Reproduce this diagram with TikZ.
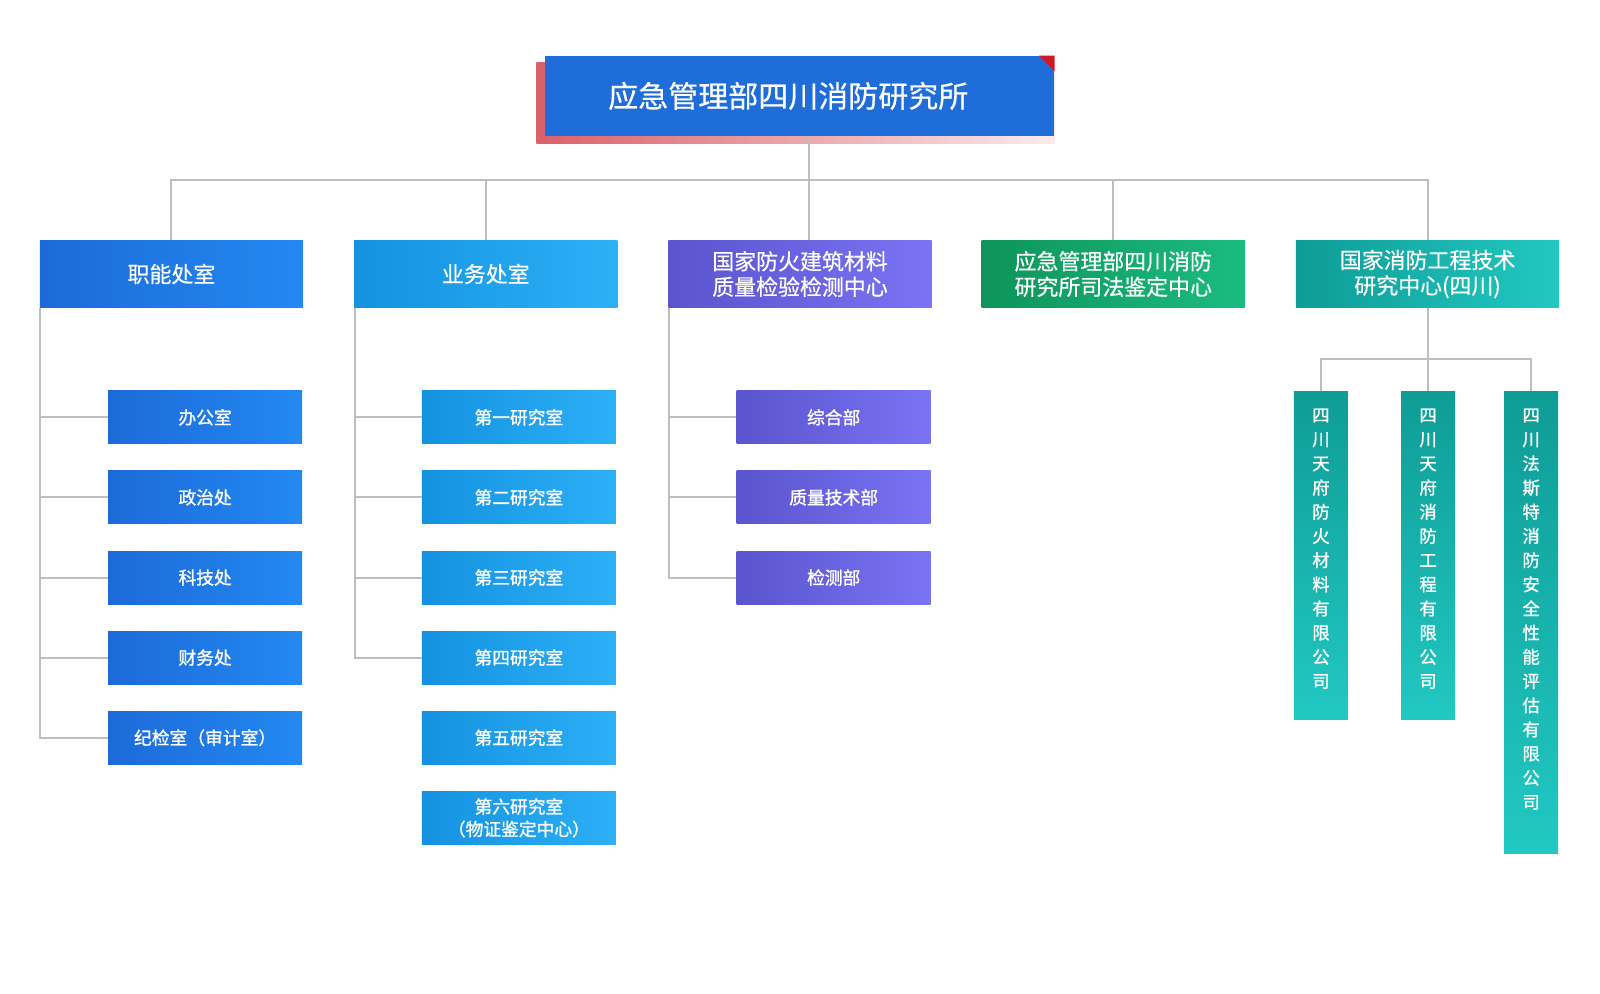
\documentclass[tikz,border=0pt]{standalone}
\usepackage{fontspec}
\newfontfamily\cjk[FakeBold=0.5]{Noto Sans CJK SC}
\newfontfamily\cjkmid[FakeBold=1.2]{Noto Sans CJK SC}
\usetikzlibrary{backgrounds}
\definecolor{headblue}{RGB}{30,109,216}
\definecolor{blueA}{RGB}{28,106,216}
\definecolor{blueB}{RGB}{35,137,242}
\definecolor{skyA}{RGB}{20,146,224}
\definecolor{skyB}{RGB}{44,176,246}
\definecolor{violetA}{RGB}{90,84,206}
\definecolor{violetB}{RGB}{122,115,244}
\definecolor{greenA}{RGB}{14,148,90}
\definecolor{greenB}{RGB}{26,188,128}
\definecolor{tealA}{RGB}{14,156,150}
\definecolor{tealB}{RGB}{34,200,194}
\definecolor{linkgray}{RGB}{190,190,190}
\definecolor{shadowred}{RGB}{218,96,106}
\definecolor{shadowpink}{RGB}{250,235,237}
\definecolor{cornerred}{RGB}{204,26,36}

\begin{document}
\begin{tikzpicture}[x=0.5pt,y=-0.5pt]
\tikzstyle{every node}+=[inner sep=0pt,text=white,align=center]
\tikzstyle{headbox}=[rectangle,minimum width=249.5pt,minimum height=39pt,fill=headblue,font=\cjk\fontsize{14.7}{17}\selectfont]
\tikzstyle{deptbox}=[rectangle,minimum width=129pt,minimum height=32.5pt,font=\cjk\fontsize{10.75}{12.5}\selectfont]
\tikzstyle{unitbox}=[rectangle,minimum width=95pt,minimum height=26pt,font=\cjkmid\fontsize{8.7}{11}\selectfont]
\tikzstyle{firmbox}=[rectangle,minimum width=26.5pt,anchor=north,top color=tealA,bottom color=tealB]
\tikzstyle{firmtext}=[anchor=north,font=\cjkmid\fontsize{8.5}{11.85}\selectfont]
\tikzstyle{fillblue}=[left color=blueA,right color=blueB]
\tikzstyle{fillsky}=[left color=skyA,right color=skyB]
\tikzstyle{fillviolet}=[left color=violetA,right color=violetB]
\tikzstyle{fillgreen}=[left color=greenA,right color=greenB]
\tikzstyle{fillteal}=[left color=tealA,right color=tealB]
\tikzstyle{link}=[draw=linkgray,line width=1pt]
\useasboundingbox (0,0) rectangle (1568,974);
\node[headbox] (inst) at (783.5,94) {应急管理部四川消防研究所\hspace*{11pt}};
\begin{scope}[on background layer]
\shade[left color=shadowred,right color=shadowpink] ([shift={(-8,7)}]inst.north west) rectangle ([shift={(0,7)}]inst.south east);
\end{scope}
\fill[cornerred] (inst.north east) -- ++(-15,0) -- ++(15,15) -- cycle;
\coordinate (bus) at (793,176);
\draw[link] (bus |- inst.south) -- (bus);
\node[deptbox,fillblue] (dept1) at (168,268.5) {职能处室};
\node[deptbox,fillsky] (dept2) at (476,268.5) {业务处室};
\node[deptbox,fillviolet] (dept3) at (784,268.5) {国家防火建筑材料\\质量检验检测中心};
\node[deptbox,fillgreen] (dept4) at (1091,268.5) {应急管理部四川消防\\研究所司法鉴定中心};
\node[deptbox,fillteal] (dept5) at (1399,268.5) {国家消防工程技术\\研究中心(四川)};
\foreach \d in {1,2,4,5}
  \draw[link] (dept\d.north) |- (bus);
\draw[link] (bus |- dept3.north) -- (bus);
\foreach \t [count=\i] in {办公室,政治处,科技处,财务处,纪检室（审计室）}
  \node[unitbox,fillblue] (off\i) at (201,{409+78.5*(\i-1)}) {\t};
\foreach \t [count=\i] in {第一研究室,第二研究室,第三研究室,第四研究室,第五研究室,{第六研究室\\（物证鉴定中心）}}
  \node[unitbox,fillsky] (lab\i) at (508.5,{409+78.5*(\i-1)}) {\t};
\foreach \t [count=\i] in {综合部,质量技术部,检测部}
  \node[unitbox,fillviolet] (sec\i) at (817,{409+78.5*(\i-1)}) {\t};
\foreach \i in {1,...,5}
  \draw[link] ([xshift=0.5pt]dept1.south west) |- (off\i.west);
\foreach \i in {1,...,4}
  \draw[link] ([xshift=0.5pt]dept2.south west) |- (lab\i.west);
\foreach \i in {1,...,3}
  \draw[link] ([xshift=0.5pt]dept3.south west) |- (sec\i.west);
\coordinate (firmbus) at (1399,352);
\draw[link] (dept5.south) -- (firmbus);
\node[firmbox,minimum height=161pt] (firm1) at (1294.5,383) {};
\node[firmbox,minimum height=161pt] (firm2) at (1399.5,383) {};
\node[firmbox,minimum height=226.5pt] (firm3) at (1500.5,383) {};
\node[firmtext] (firm1txt) at ([yshift=-8.5pt]firm1.north) {四\\川\\天\\府\\防\\火\\材\\料\\有\\限\\公\\司};
\node[firmtext] (firm2txt) at ([yshift=-8.5pt]firm2.north) {四\\川\\天\\府\\消\\防\\工\\程\\有\\限\\公\\司};
\node[firmtext] (firm3txt) at ([yshift=-8.5pt]firm3.north) {四\\川\\法\\斯\\特\\消\\防\\安\\全\\性\\能\\评\\估\\有\\限\\公\\司};
\foreach \i in {1,2,3}
  \draw[link] (firm\i.north) |- (firmbus);
\end{tikzpicture}
\end{document}
